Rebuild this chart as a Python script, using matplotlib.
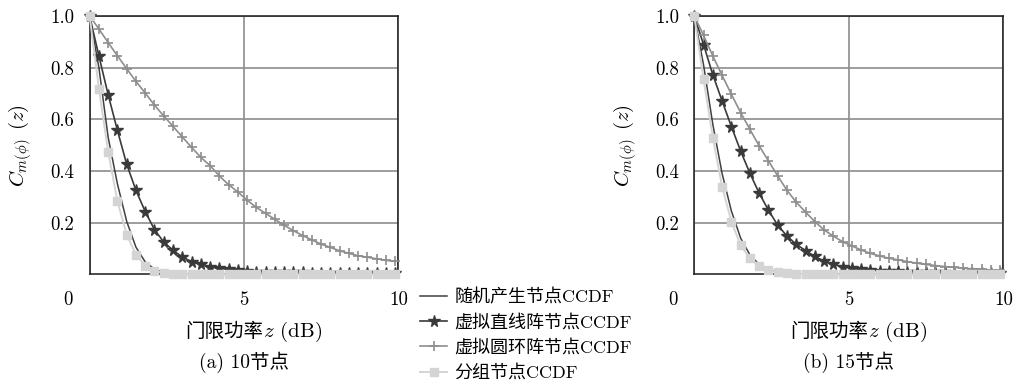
import numpy as np
import matplotlib
matplotlib.use("Agg")
import matplotlib.pyplot as plt
from matplotlib.lines import Line2D
from matplotlib.transforms import ScaledTranslation

plt.rcParams['mathtext.fontset'] = 'cm'
plt.rcParams['font.family'] = ['cmr10', 'Noto Sans CJK SC', 'DejaVu Sans']
plt.rcParams['axes.unicode_minus'] = False

# threshold power grid (dB), 0.3 dB step
z_db = np.arange(0, 10.0, 0.3)

# (a) 10 nodes
rand_10 = [1.0, 0.80, 0.53, 0.35, 0.205, 0.105, 0.048, 0.020, 0.007, 0.002, 0.001] + [0.0] * 23
line_10 = [1.0, 0.845, 0.695, 0.557, 0.426, 0.325, 0.243, 0.173, 0.125, 0.093, 0.067, 0.049,
           0.039, 0.029, 0.023, 0.019, 0.015, 0.012, 0.010, 0.009, 0.008, 0.008, 0.007, 0.007,
           0.006, 0.006, 0.006, 0.005, 0.005, 0.005, 0.005, 0.004, 0.004, 0.004]
ring_10 = [1.0, 0.950, 0.897, 0.846, 0.796, 0.747, 0.702, 0.655, 0.613, 0.573, 0.532, 0.492,
           0.453, 0.421, 0.381, 0.347, 0.319, 0.287, 0.259, 0.236, 0.213, 0.190, 0.169, 0.150,
           0.133, 0.117, 0.104, 0.091, 0.081, 0.072, 0.066, 0.060, 0.054, 0.050]
group_10 = [1.0, 0.719, 0.474, 0.283, 0.154, 0.076, 0.034, 0.014, 0.005, 0.002, 0.001] + [0.0] * 23

# (b) 15 nodes
rand_15 = [1.0, 0.81, 0.58, 0.39, 0.245, 0.14, 0.075, 0.038, 0.018, 0.008, 0.003, 0.001] + [0.0] * 22
line_15 = [1.0, 0.889, 0.772, 0.671, 0.572, 0.477, 0.391, 0.314, 0.248, 0.190, 0.148, 0.116,
           0.092, 0.069, 0.051, 0.039, 0.029, 0.023, 0.019, 0.016, 0.014, 0.012, 0.011, 0.010,
           0.009, 0.008, 0.007, 0.007, 0.006, 0.006, 0.005, 0.005, 0.005, 0.004]
ring_15 = [1.0, 0.925, 0.845, 0.770, 0.697, 0.626, 0.561, 0.497, 0.439, 0.381, 0.325, 0.279,
           0.241, 0.204, 0.172, 0.148, 0.126, 0.110, 0.094, 0.081, 0.071, 0.062, 0.056, 0.049,
           0.043, 0.038, 0.034, 0.030, 0.027, 0.024, 0.021, 0.019, 0.017, 0.016]
group_15 = [1.0, 0.755, 0.529, 0.339, 0.204, 0.112, 0.062, 0.032, 0.015, 0.009, 0.005, 0.002] + [0.0] * 22

series_names = ['随机产生节点CCDF', '虚拟直线阵节点CCDF', '虚拟圆环阵节点CCDF', '分组节点CCDF']
captions = ['(a) 10节点', '(b) 15节点']
x_ticks = [0, 5, 10]
x_tick_labels = ['0', '5', '10']
y_ticks = [0.2, 0.4, 0.6, 0.8, 1.0]
y_tick_labels = ['0.2', '0.4', '0.6', '0.8', '1.0']

styles = [
    dict(color='#404040', lw=1.1, marker=None),
    dict(color='#3a3a3a', lw=1.2, marker='*', ms=8.5, mec='#3a3a3a', mfc='#3a3a3a'),
    dict(color='#8e8e8e', lw=1.2, marker='+', ms=6.5, mew=1.2),
    dict(color='#d4d4d4', lw=1.4, marker='s', ms=5.2, mec='#d4d4d4', mfc='#d4d4d4'),
]

fig = plt.figure(figsize=(10.13, 3.83), dpi=100)
ax_a = fig.add_axes([0.0885, 0.2838, 0.3047, 0.6744])
ax_b = fig.add_axes([0.6854, 0.2838, 0.3050, 0.6744])

panels = [(ax_a, [rand_10, line_10, ring_10, group_10], 0),
          (ax_b, [rand_15, line_15, ring_15, group_15], 1)]

for ax, data, k in panels:
    for y, st in zip(data, styles):
        ax.plot(z_db, y, clip_on=False, zorder=3, **st)
    ax.set_xlim(0, 10)
    ax.set_ylim(0, 1)
    ax.set_xticks(x_ticks)
    ax.set_xticklabels(x_tick_labels, fontsize=13.5)
    ax.set_yticks(y_ticks)
    ax.set_yticklabels(y_tick_labels, fontsize=13.5)
    ax.tick_params(axis='x', length=0, pad=12)
    ax.tick_params(axis='y', length=0, pad=11)
    # the origin label sits left of the corner
    lab0 = ax.get_xticklabels()[0]
    lab0.set_transform(lab0.get_transform() + ScaledTranslation(-0.215, 0, fig.dpi_scale_trans))
    ax.grid(True, color='#8c8c8c', lw=1.2)
    ax.set_axisbelow(True)
    for sp in ax.spines.values():
        sp.set_linewidth(1.1)
        sp.set_color('#1a1a1a')
    # x label: CJK part and math part drawn side by side
    ax.text(0.5616, -0.243, '门限功率', transform=ax.transAxes, fontsize=14,
            ha='right', va='baseline')
    ax.text(0.5616, -0.243, r'$z$ (dB)', transform=ax.transAxes, fontsize=15,
            ha='left', va='baseline')
    ax.set_ylabel(r'$C_{m(\phi)}\;\,(z)$', fontsize=15)
    ax.yaxis.set_label_coords(-0.18, 0.5)
    bb = ax.get_position()
    fig.text(bb.x0 + bb.width / 2, 1 - 362 / 383, captions[k], fontsize=14,
             ha='center', va='center')

handles = [Line2D([], [], **st) for st in styles]
fig.legend(handles, series_names, loc='upper left', bbox_to_anchor=(0.4146, 0.2488),
           frameon=False, borderaxespad=0, borderpad=0, handlelength=1.5,
           handletextpad=0.4, labelspacing=0.47, fontsize=13)

fig.savefig('out.png', dpi=100)
